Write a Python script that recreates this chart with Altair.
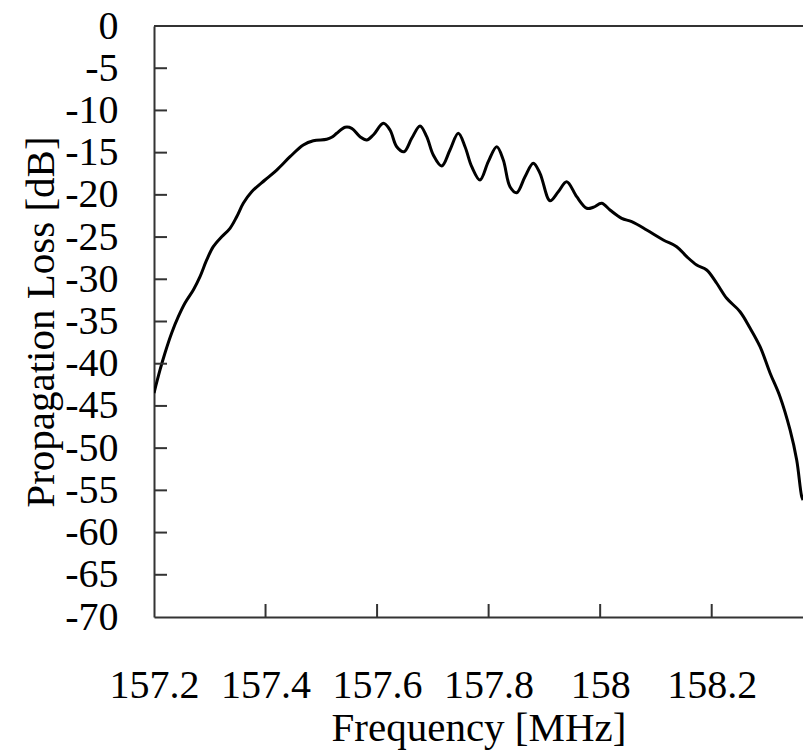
import altair as alt
import pandas as pd

# Frequency [MHz] and propagation loss [dB]
freq = [157.2000, 157.2108, 157.2197, 157.2317, 157.2436, 157.2556, 157.2705, 157.2825,
        157.2945, 157.3063, 157.3214, 157.3363, 157.3483, 157.3601, 157.3752, 157.3990,
        157.4200, 157.4439, 157.4677, 157.4857, 157.5097, 157.5186, 157.5276, 157.5425,
        157.5545, 157.5694, 157.5814, 157.5932, 157.6112, 157.6232, 157.6352, 157.6483,
        157.6621, 157.6770, 157.6890, 157.7008, 157.7159, 157.7307, 157.7456, 157.7577,
        157.7697, 157.7845, 157.7994, 157.8145, 157.8263, 157.8383, 157.8504, 157.8652,
        157.8801, 157.8921, 157.9101, 157.9249, 157.9400, 157.9579, 157.9759, 157.9877,
        158.0027, 158.0176, 158.0386, 158.0565, 158.0834, 158.1132, 158.1372, 158.1552,
        158.1731, 158.1910, 158.2090, 158.2269, 158.2508, 158.2687, 158.2867, 158.3046,
        158.3225, 158.3405, 158.3524, 158.3614, 158.3638]
loss = [-43.47, -40.74, -38.73, -36.36, -34.43, -32.81, -31.27, -29.69,
        -27.71, -26.14, -24.96, -23.96, -22.59, -21.00, -19.63, -18.24,
        -17.06, -15.48, -14.09, -13.59, -13.42, -13.18, -12.71, -12.00,
        -12.12, -13.11, -13.50, -12.91, -11.52, -12.32, -14.30, -14.89,
        -13.30, -11.84, -13.11, -15.28, -16.58, -14.69, -12.71, -14.30,
        -16.66, -18.24, -16.07, -14.30, -15.87, -19.03, -19.74, -17.85,
        -16.26, -17.45, -20.69, -19.63, -18.44, -20.22, -21.59, -21.47,
        -21.00, -21.79, -22.78, -23.18, -24.16, -25.35, -26.14, -27.32,
        -28.31, -28.90, -30.47, -32.25, -33.84, -35.77, -37.98, -41.10,
        -43.91, -47.85, -51.40, -55.75, -56.14]

x_ticks = [157.2, 157.4, 157.6, 157.8, 158.0, 158.2]
y_ticks = [0, -5, -10, -15, -20, -25, -30, -35, -40, -45, -50, -55, -60, -65, -70]
x_inner_ticks = [157.4, 157.6, 157.8, 158.0, 158.2]
y_inner_ticks = [-5, -10, -15, -20, -25, -30, -35, -40, -45, -50, -55, -60, -65]

W, H = 649, 591
X_MAX = 158.3637
FONT = "Liberation Serif"
AX = "#333333"

df = pd.DataFrame({"freq": freq, "loss": loss})
xt = pd.DataFrame({"freq": x_inner_ticks})
yt = pd.DataFrame({"loss": y_inner_ticks})

xscale = alt.Scale(domain=[157.2, X_MAX], nice=False, zero=False)
yscale = alt.Scale(domain=[-70, 0], nice=False, zero=False)

line = alt.Chart(df).mark_line(color="black", strokeWidth=3, interpolate="catmull-rom", clip=True).encode(
    x=alt.X("freq:Q", scale=xscale,
            axis=alt.Axis(title="Frequency [MHz]", values=x_ticks, labelExpr="datum.value + ''",
                          grid=False, ticks=False, tickSize=0, domainColor=AX, domainWidth=2,
                          labelFont=FONT, labelFontSize=40, labelColor="black", labelPadding=48,
                          labelOverlap=False, labelFlush=False,
                          titleFont=FONT, titleFontSize=41, titleFontWeight="normal", titleColor="black",
                          titleBaseline="alphabetic", titleY=123)),
    y=alt.Y("loss:Q", scale=yscale,
            axis=alt.Axis(title="Propagation Loss [dB]", values=y_ticks, labelExpr="datum.value + ''",
                          grid=False, ticks=False, tickSize=0, domainColor=AX, domainWidth=2,
                          labelFont=FONT, labelFontSize=40, labelColor="black", labelPadding=36,
                          labelOverlap=False, labelFlush=False, labelBaseline="middle",
                          titleFont=FONT, titleFontSize=41, titleFontWeight="normal", titleColor="black",
                          titleBaseline="alphabetic", titleX=-101)),
)

ytick_layer = alt.Chart(yt).mark_rule(color=AX, strokeWidth=2).encode(
    y=alt.Y("loss:Q", scale=yscale), x=alt.value(0), x2=alt.value(13))
xtick_layer = alt.Chart(xt).mark_rule(color=AX, strokeWidth=2).encode(
    x=alt.X("freq:Q", scale=xscale), y=alt.value(H), y2=alt.value(H - 13))
top_border = alt.Chart(xt).mark_rule(color=AX, strokeWidth=2).encode(
    x=alt.value(0), x2=alt.value(W), y=alt.value(0))

chart = alt.layer(line, ytick_layer, xtick_layer, top_border).properties(
    width=W, height=H,
    autosize=alt.AutoSizeParams(type="none"),
    padding={"left": 154, "top": 26, "right": 0, "bottom": 137},
    background="white",
).configure_view(strokeWidth=0)

chart.save("out.html", embed_options={"renderer": "svg", "actions": False})
